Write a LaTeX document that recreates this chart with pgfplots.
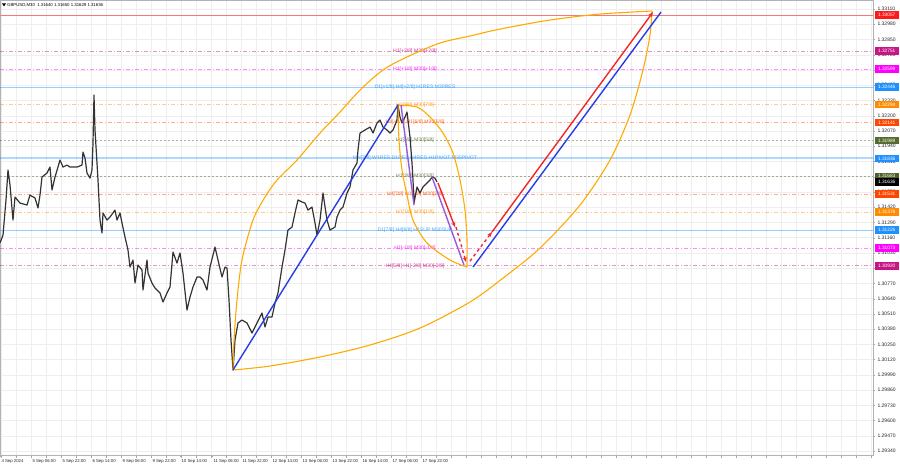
\documentclass[border=0pt]{standalone}
\usepackage{pgfplots}
\pgfplotsset{compat=1.18}
\usepackage{fontspec}
\setmainfont{Liberation Sans}
\usetikzlibrary{arrows.meta}
\definecolor{mvr}{RGB}{199,21,133}
\definecolor{mag}{RGB}{255,0,255}
\definecolor{dodger}{RGB}{30,144,255}
\definecolor{dorange}{RGB}{255,140,0}
\definecolor{ored}{RGB}{255,69,0}
\definecolor{dolive}{RGB}{85,107,47}
\definecolor{arcor}{RGB}{255,170,0}
\definecolor{bline}{RGB}{40,60,230}
\definecolor{rline}{RGB}{240,40,40}
\definecolor{purp}{RGB}{150,90,220}
\definecolor{topred}{RGB}{245,120,120}
\newcommand{\lvlfont}{\fontsize{5.1}{6}\selectfont}
\tikzset{dd/.style={dash pattern=on 4pt off 2pt on 1pt off 2pt, line width=0.6pt, opacity=0.45},
         dt/.style={dash pattern=on 2pt off 2pt, line width=0.6pt, opacity=0.5}}
\newcommand{\lvl}[4]{%
  \addplot[#2,#3] coordinates {(0,#1) (873,#1)};
  \node[text=#2!85, font=\lvlfont, inner sep=0pt] at (axis cs:415,#1) {#4};
}
\begin{document}
\begin{tikzpicture}
\path[use as bounding box] (0,0) rectangle (900pt,-468pt);
\begin{axis}[
  at={(0pt,0pt)}, anchor=north west,
  scale only axis, width=873pt, height=455pt,
  xmin=0, xmax=873, ymin=1.29306, ymax=1.33187,
  clip=false,
  axis line style={gray!60, line width=0.5pt},
  ytick pos=right, xtick pos=bottom,
  tick align=outside, major tick length=2pt,
  tick style={gray!70},
  scaled y ticks=false,
  ytick={1.2934,1.2947,1.2960,1.2973,1.2986,1.2999,1.3012,1.3025,1.3038,1.3051,1.3064,1.3077,1.3090,1.3103,1.3116,1.3129,1.3142,1.3155,1.3168,1.3181,1.3194,1.3207,1.3220,1.3233,1.3246,1.3259,1.3272,1.3285,1.3298,1.3311},
  yticklabel style={/pgf/number format/.cd, fixed, fixed zerofill, precision=5, assume math mode=true, /tikz/.cd, font=\fontsize{5}{6}\selectfont, text=black!85, xshift=-1pt},
  xtick={0,31,61,91,121,151,180,212,241,271,301,331,361,391,421},
  xticklabels={4 Sep 2024,5 Sep 06:00,5 Sep 22:00,6 Sep 14:00,9 Sep 06:00,9 Sep 22:00,10 Sep 14:00,11 Sep 06:00,11 Sep 22:00,12 Sep 14:00,13 Sep 06:00,13 Sep 22:00,16 Sep 14:00,17 Sep 06:00,17 Sep 22:00},
  xticklabel style={anchor=north west, font=\fontsize{4.3}{5}\selectfont, text=black!85, xshift=-2pt, yshift=1pt},
  minor xtick={1,16,...,871},
  xminorgrids=true, ymajorgrids=true,
  minor grid style={gray!13, line width=0.4pt},
  major grid style={gray!13, line width=0.4pt},
]
% Murrey levels
\addplot[topred, line width=0.6pt] coordinates {(0,1.33057) (873,1.33057)};
\lvl{1.32751}{mvr}{dd}{H1[+2/8] M30[+2/8]}
\lvl{1.32599}{mag}{dd}{H1[+1/8] M30[+1/8]}
\lvl{1.32446}{dodger}{line width=0.7pt, opacity=0.45}{D1[+1/8] H4[+2/8] H1RES M30RES}
\lvl{1.32294}{dorange}{dd}{H1[8/8] M30[7/8]}
\lvl{1.32141}{ored}{dd}{H4[+1/8] H1[6/8] M30[6/8]}
\lvl{1.31989}{dolive}{dt}{H1[5/8] M30[5/8]}
\lvl{1.31836}{dodger}{line width=2.2pt, opacity=0.35}{MN[7/8] W1RES D1RES H4RES H1PIVOT M30PIVOT}
\lvl{1.31683}{dolive}{dt}{H1[3/8] M30[3/8]}
\lvl{1.31531}{ored}{dd}{H4[7/8] H1[2/8] M30[2/8]}
\lvl{1.31378}{dorange}{dd}{H1[1/8] M30[1/8]}
\lvl{1.31226}{dodger}{line width=0.7pt, opacity=0.45}{D1[7/8] H4[6/8] H1SUP M30SUP}
\lvl{1.31073}{mag}{dd}{H1[-1/8] M30[-1/8]}
\lvl{1.30920}{mvr}{dd}{H4[5/8] H1[-2/8] M30[-2/8]}
% price
\addplot[black!80, line width=1.2pt, line join=round] coordinates {
(0,1.31114) (3,1.31182) (6,1.31481) (8,1.31737) (10,1.31609) (13,1.31310) (15,1.31506) (20,1.31455) (27,1.31438) (30,1.31523) (35,1.31498) (38,1.31413) (40,1.31523) (42,1.31677) (47,1.31711) (50,1.31762) (52,1.31566) (55,1.31677) (58,1.31762) (60,1.31822) (63,1.31762) (67,1.31779) (70,1.31762) (77,1.31762) (82,1.31779) (83,1.31890) (85,1.31839) (87,1.31711) (90,1.31668) (92,1.31737) (93,1.31967) (94,1.32376) (95,1.32078) (97,1.31796) (98,1.31651) (100,1.31310) (102,1.31199) (103,1.31370) (107,1.31310) (110,1.31336) (115,1.31395) (117,1.31310) (120,1.31370) (122,1.31285) (125,1.31165) (128,1.31054) (130,1.30909) (133,1.30969) (135,1.30773) (138,1.30926) (142,1.30884) (143,1.30713) (147,1.30969) (148,1.30858) (152,1.30773) (155,1.30730) (160,1.30688) (163,1.30611) (167,1.30688) (170,1.30739) (173,1.31037) (177,1.30943) (180,1.31029) (183,1.30858) (187,1.30542) (190,1.30653) (193,1.30739) (197,1.30824) (200,1.30824) (203,1.30798) (207,1.30713) (210,1.30909) (215,1.31080) (218,1.30969) (222,1.30824) (225,1.30909) (227,1.30900) (229,1.30628) (231,1.30287) (233,1.30031) (235,1.30287) (238,1.30432) (242,1.30457) (247,1.30432) (252,1.30346) (257,1.30432) (262,1.30517) (265,1.30398) (268,1.30483) (272,1.30483) (275,1.30602) (278,1.30688) (282,1.30909) (285,1.31054) (288,1.31225) (292,1.31250) (295,1.31370) (298,1.31481) (302,1.31464) (305,1.31455) (308,1.31395) (312,1.31421) (315,1.31285) (317,1.31182) (320,1.31310) (323,1.31540) (327,1.31310) (330,1.31225) (335,1.31250) (337,1.31336) (340,1.31395) (343,1.31421) (347,1.31540) (350,1.31592) (353,1.31737) (357,1.31796) (358,1.31907) (360,1.32052) (365,1.32078) (370,1.32103) (373,1.32052) (377,1.32138) (380,1.32163) (383,1.32103) (387,1.32078) (390,1.32052) (393,1.32078) (397,1.32163) (398,1.32291) (400,1.32189) (402,1.32138) (405,1.32189) (407,1.32231) (408,1.32163) (410,1.32018) (411,1.31907) (412,1.31796) (413,1.31651) (414,1.31455) (417,1.31592) (420,1.31540) (423,1.31592) (427,1.31626) (430,1.31651) (432,1.31677) (435,1.31668) (437,1.31636)};
% orange arcs
\addplot[arcor, line width=1.1pt, smooth] coordinates {(233,1.30031) (234,1.30287) (237,1.30628) (242,1.30969) (253,1.31310) (265,1.31506) (277,1.31651) (297,1.31822) (320,1.32052) (340,1.32231) (360,1.32419) (383,1.32590) (407,1.32701) (440,1.32820) (470,1.32880) (500,1.32939) (550,1.33016) (600,1.33067) (652,1.33093)};
\addplot[arcor, line width=1.1pt, smooth] coordinates {(233,1.30031) (270,1.30065) (320,1.30142) (370,1.30244) (420,1.30389) (470,1.30611) (503,1.30815) (540,1.31071) (580,1.31438) (610,1.31822) (630,1.32206) (643,1.32590) (650,1.32888) (652,1.33093)};
\addplot[arcor, line width=1.1pt, smooth] coordinates {(398,1.32291) (399,1.31993) (402,1.31737) (407,1.31523) (413,1.31310) (427,1.31114) (450,1.30969) (467,1.30909)};
\addplot[arcor, line width=1.1pt, smooth] coordinates {(398,1.32291) (417,1.32274) (430,1.32189) (443,1.32052) (453,1.31882) (460,1.31651) (465,1.31395) (467,1.31140) (467,1.30909)};
% blue lines
\addplot[bline, line width=1.4pt] coordinates {(233,1.30031) (398,1.32291)};
\addplot[bline, line width=1.4pt] coordinates {(473,1.30909) (661,1.33084)};
% purple
\addplot[purp, line width=1.4pt] coordinates {(401,1.32291) (414,1.31438)};
\addplot[purp, line width=1.4pt] coordinates {(432,1.31677) (464,1.30926)};
% red arrows
\addplot[rline, line width=1.4pt, -{Stealth[length=5pt,width=4pt]}] coordinates {(438,1.31626) (455,1.31250)};
\addplot[rline, line width=1.4pt, dashed, -{Stealth[length=5pt,width=4pt]}] coordinates {(456,1.31250) (466,1.30952)};
\addplot[rline, line width=1.4pt, dashed, -{Stealth[length=5pt,width=4pt]}] coordinates {(470,1.30960) (492,1.31208)};
\addplot[rline, line width=1.4pt, -{Stealth[length=5pt,width=4pt]}] coordinates {(492,1.31208) (653,1.33084)};
% label anchors
\coordinate (L1) at (axis cs:873,1.33057);
\coordinate (L2) at (axis cs:873,1.32751);
\coordinate (L3) at (axis cs:873,1.32599);
\coordinate (L4) at (axis cs:873,1.32446);
\coordinate (L5) at (axis cs:873,1.32294);
\coordinate (L6) at (axis cs:873,1.32141);
\coordinate (L7) at (axis cs:873,1.31989);
\coordinate (L8) at (axis cs:873,1.31836);
\coordinate (L9) at (axis cs:873,1.31683);
\coordinate (L10) at (axis cs:873,1.31636);
\coordinate (L11) at (axis cs:873,1.31531);
\coordinate (L12) at (axis cs:873,1.31378);
\coordinate (L13) at (axis cs:873,1.31226);
\coordinate (L14) at (axis cs:873,1.31073);
\coordinate (L15) at (axis cs:873,1.30920);
\end{axis}
\tikzset{pl/.style={anchor=west, text=white, font=\fontsize{4.8}{5}\selectfont, inner sep=0pt, minimum height=7.5pt, minimum width=24pt, xshift=1.5pt}}
\node[pl, fill=red!90] at (L1) {1.33057};
\node[pl, fill=mvr] at (L2) {1.32751};
\node[pl, fill=mag] at (L3) {1.32599};
\node[pl, fill=dodger] at (L4) {1.32446};
\node[pl, fill=dorange] at (L5) {1.32294};
\node[pl, fill=ored] at (L6) {1.32141};
\node[pl, fill=dolive] at (L7) {1.31989};
\node[pl, fill=dodger] at (L8) {1.31836};
\node[pl, fill=dolive!90!black] at (L9) {1.31683};
\node[pl, fill=black] at (L10) {1.31636};
\node[pl, fill=ored] at (L11) {1.31531};
\node[pl, fill=dorange] at (L12) {1.31378};
\node[pl, fill=dodger] at (L13) {1.31226};
\node[pl, fill=mag] at (L14) {1.31073};
\node[pl, fill=mvr] at (L15) {1.30920};
% title
\fill[black] (2pt,-3.5pt) -- (6pt,-3.5pt) -- (4pt,-6.5pt) -- cycle;
\node[anchor=west, font=\fontsize{4.3}{5}\selectfont, inner sep=0pt] at (7pt,-5pt) {GBPUSD,M30\ \ 1.31640 1.31650 1.31629 1.31636};
\end{tikzpicture}
\end{document}
